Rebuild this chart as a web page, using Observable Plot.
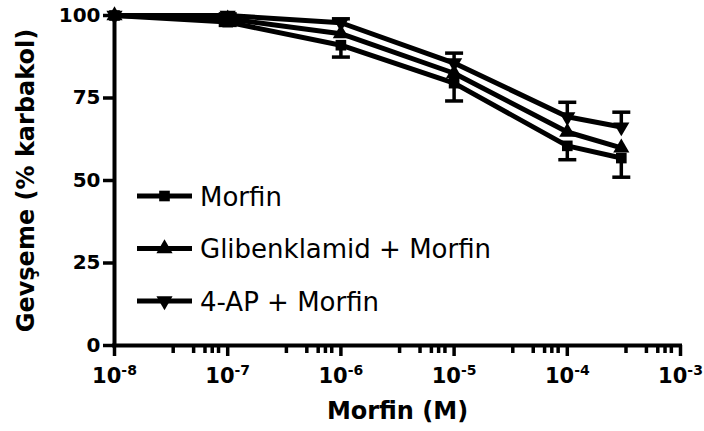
<!DOCTYPE html>
<html>
<head>
<meta charset="utf-8">
<script src="https://cdn.jsdelivr.net/npm/d3@7"></script>
<script src="https://cdn.jsdelivr.net/npm/@observablehq/plot@0.6"></script>
<style>
html, body { margin: 0; padding: 0; background: #fff; }
#chart { position: relative; width: 704px; height: 431px; }
#legend { position: absolute; left: 0; top: 0; pointer-events: none; }
</style>
</head>
<body>
<div id="chart"></div>
<script>
// ---- data ----
const concentrations = [1e-8, 1e-7, 1e-6, 1e-5, 1e-4, 3e-4];
const seriesNames = ["Morfin", "Glibenklamid + Morfin", "4-AP + Morfin"];
const morfinMean = [100, 98, 91, 79.5, 60.5, 56.8];
const morfinSem  = [0, 1, 3.6, 5.4, 4.2, 5.8];
const glibMean   = [100, 99, 94.5, 82.5, 64.7, 59.9];
const glibSem    = [0, 0, 0, 0, 0, 0];
const apMean     = [100, 100, 97.8, 85.6, 69.3, 66.2];
const apSem      = [0, 0.5, 1.2, 3, 4.4, 4.5];
// which side of each series' error bar is drawn (-1 below, +1 above)
const errorSide  = [-1, 0, 1];
const yTicks = [0, 25, 50, 75, 100];
const xMajorTicks = [1e-8, 1e-7, 1e-6, 1e-5, 1e-4, 1e-3];
const xMinorMultipliers = [3.3, 5, 6.3, 7.3, 8.3];
const yLabel = "Gevşeme (% karbakol)";
const xLabel = "Morfin (M)";

// ---- tables ----
const means = [morfinMean, glibMean, apMean];
const sems = [morfinSem, glibSem, apSem];
const rows = seriesNames.flatMap((s, k) => concentrations.map((c, i) => ({
  series: s, conc: c, mean: means[k][i], sem: sems[k][i], side: errorSide[k]
})));
const errRows = rows.filter(d => d.sem > 0 && d.side !== 0);
const xMinorTicks = xMajorTicks.slice(0, -1).flatMap(t => xMinorMultipliers.map(m => t * m));

// custom symbols
const triangleDown = {
  draw(context, size) {
    const y = -Math.sqrt(size / (Math.sqrt(3) * 3));
    context.moveTo(0, -y * 2);
    context.lineTo(-Math.sqrt(3) * y, y);
    context.lineTo(Math.sqrt(3) * y, y);
    context.closePath();
  }
};
const capSymbol = {
  draw(context, size) {
    const r = Math.sqrt(size / Math.PI);
    context.moveTo(-r, 0);
    context.lineTo(r, 0);
  }
};
const symbolsBySeries = {"Morfin": "square", "Glibenklamid + Morfin": "triangle", "4-AP + Morfin": triangleDown};
const markerR = 6;

const chart = Plot.plot({
  width: 704,
  height: 431,
  marginLeft: 114,
  marginRight: 24,
  marginTop: 15,
  marginBottom: 86,
  style: {fontFamily: "DejaVu Sans", background: "#fff", color: "#000", overflow: "visible"},
  x: {type: "log", domain: [1e-8, 1e-3]},
  y: {domain: [0, 100]},
  marks: [
    // axes
    Plot.axisY({ticks: yTicks, tickSize: 11, tickPadding: 3, fontSize: 20, fontWeight: "bold", strokeWidth: 3.5, label: null}),
    Plot.axisX({ticks: xMajorTicks, tickSize: 11, tickPadding: 12, fontSize: 21, fontWeight: "bold", strokeWidth: 3.5, label: null,
      tickFormat: d => "10^" + Math.round(Math.log10(d))}),
    Plot.axisX({ticks: xMinorTicks, tickSize: 8, strokeWidth: 3.5, tickFormat: () => "", label: null}),
    Plot.ruleY([0], {strokeWidth: 4, strokeLinecap: "square"}),
    Plot.ruleX([1e-8], {strokeWidth: 4, strokeLinecap: "square"}),
    Plot.text([xLabel], {text: d => d, frameAnchor: "bottom", dy: 66, fontSize: 24, fontWeight: "bold", lineAnchor: "middle", textAnchor: "middle"}),
    Plot.text([yLabel], {text: d => d, frameAnchor: "left", dx: -88, rotate: -90, fontSize: 24, fontWeight: "bold", lineAnchor: "middle", textAnchor: "middle"}),
    // error bars
    Plot.ruleX(errRows, {x: "conc", y1: "mean", y2: d => d.mean + d.side * d.sem, stroke: "black", strokeWidth: 3.5}),
    Plot.dot(errRows, {x: "conc", y: d => d.mean + d.side * d.sem, symbol: capSymbol, r: 9, fill: "none", stroke: "black", strokeWidth: 3.5}),
    // lines
    Plot.line(rows, {x: "conc", y: "mean", z: "series", stroke: "black", strokeWidth: 5}),
    // markers
    ...seriesNames.map(s => Plot.dot(rows.filter(d => d.series === s), {
      x: "conc", y: "mean", symbol: symbolsBySeries[s], r: markerR, fill: "black", stroke: "none"
    }))
  ]
});

// superscript exponents on x tick labels
d3.select(chart).selectAll("g[aria-label='x-axis tick label'] text").each(function() {
  const t = d3.select(this);
  const m = /^10\^(-?\d+)$/.exec(t.text());
  if (!m) return;
  t.text(null);
  t.append("tspan").text("10");
  t.append("tspan").attr("font-size", 14).attr("dy", "-0.6em").text(m[1]);
});

const container = document.getElementById("chart");
container.appendChild(chart);

// legend overlay
const legendRowsY = [196, 248.5, 301];
const legend = d3.select(container).append("svg")
  .attr("id", "legend").attr("width", 704).attr("height", 431);
const legendTypes = [d3.symbolSquare, d3.symbolTriangle, triangleDown];
seriesNames.forEach((s, k) => {
  const g = legend.append("g").attr("transform", `translate(0,${legendRowsY[k]})`);
  g.append("line").attr("x1", 137).attr("x2", 192).attr("y1", 0).attr("y2", 0)
    .attr("stroke", "black").attr("stroke-width", 5);
  g.append("path").attr("transform", "translate(164.5,0)")
    .attr("d", d3.symbol().type(legendTypes[k]).size(Math.PI * markerR * markerR)())
    .attr("fill", "black");
  g.append("text").attr("x", 200).attr("y", 9.5)
    .attr("font-family", "DejaVu Sans").attr("font-size", 26).attr("fill", "black")
    .text(s);
});
</script>
</body>
</html>
